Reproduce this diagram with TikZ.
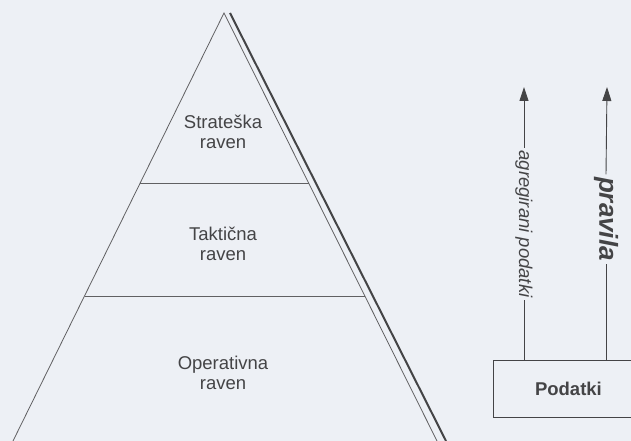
\documentclass[tikz,border=0pt]{standalone}
\usepackage{fontspec}
\setmainfont{Liberation Sans}
\usetikzlibrary{arrows.meta,calc}

\definecolor{paper}{RGB}{237,240,245}
\definecolor{ink}{RGB}{68,68,70}

\tikzset{
  level/.style={font=\fontsize{18.5}{20}\selectfont, text=ink, align=center},
  edge/.style={draw=ink!85, line width=0.8pt},
  flow/.style={draw=ink, line width=0.9pt},
  tip/.style={-{Triangle[length=14pt,width=9pt]}},
}

\begin{document}
\begin{tikzpicture}[x=1pt,y=1pt]
\clip (0,0) rectangle (631,441);
\fill[paper] (0,0) rectangle (631,441);
%%%%%%%%%%%%%%%%%%%%%%%%%%%%%%%
% pyramid
%%%%%%%%%%%%%%%%%%%%%%%%%%%%%%%
\coordinate (apex) at (224,428);
\coordinate (apexo) at (230,428);
\coordinate (bl) at (13,0);
\coordinate (br) at (437,0);
\coordinate (bro) at (446,0);
\draw [edge] (bl) -- (apex) -- (br);
\draw [ink, line width=2pt] (apexo) -- (bro);
%
\draw [edge] ($(apex)!0.397!(bl)$) -- ($(apex)!0.397!(br)$);
\draw [edge] ($(apex)!0.661!(bl)$) -- ($(apex)!0.661!(br)$);
%
\node [level] (strat) at (223,309) {Strateška\\raven};
\node [level] (takt) at (223,197) {Taktična\\raven};
\node [level] (oper) at (223,68) {Operativna\\raven};
%%%%%%%%%%%%%%%%%%%%%%%%%%%%%%%
% data and the two arrows
%%%%%%%%%%%%%%%%%%%%%%%%%%%%%%%
\node [draw=ink, line width=0.9pt, minimum width=150pt, minimum height=57pt,
       anchor=north west, text=ink, font=\bfseries\fontsize{18.5}{20}\selectfont] (podatki) at (493,81) {Podatki};
\coordinate (topa) at (524,354);
\coordinate (topp) at (607,354);
\node [rotate=-90, inner sep=2.5pt, text=ink, font=\itshape\fontsize{18.5}{20}\selectfont] (agr) at (524,217) {agregirani podatki};
\node [rotate=-90, inner sep=2.5pt, text=ink, font=\bfseries\itshape\fontsize{26}{28}\selectfont] (prav) at (606,222) {pravila};
\draw [flow] (podatki.north -| agr) -- (agr.east);
\draw [flow, tip] (agr.west) -- (topa);
\draw [flow] (podatki.north -| prav) -- (prav.east);
\draw [flow, tip] (prav.west) -- (topp);
%%%%%%%%%%%%%%%%%%%%%%%%%%%%%%%
\end{tikzpicture}
\end{document}
